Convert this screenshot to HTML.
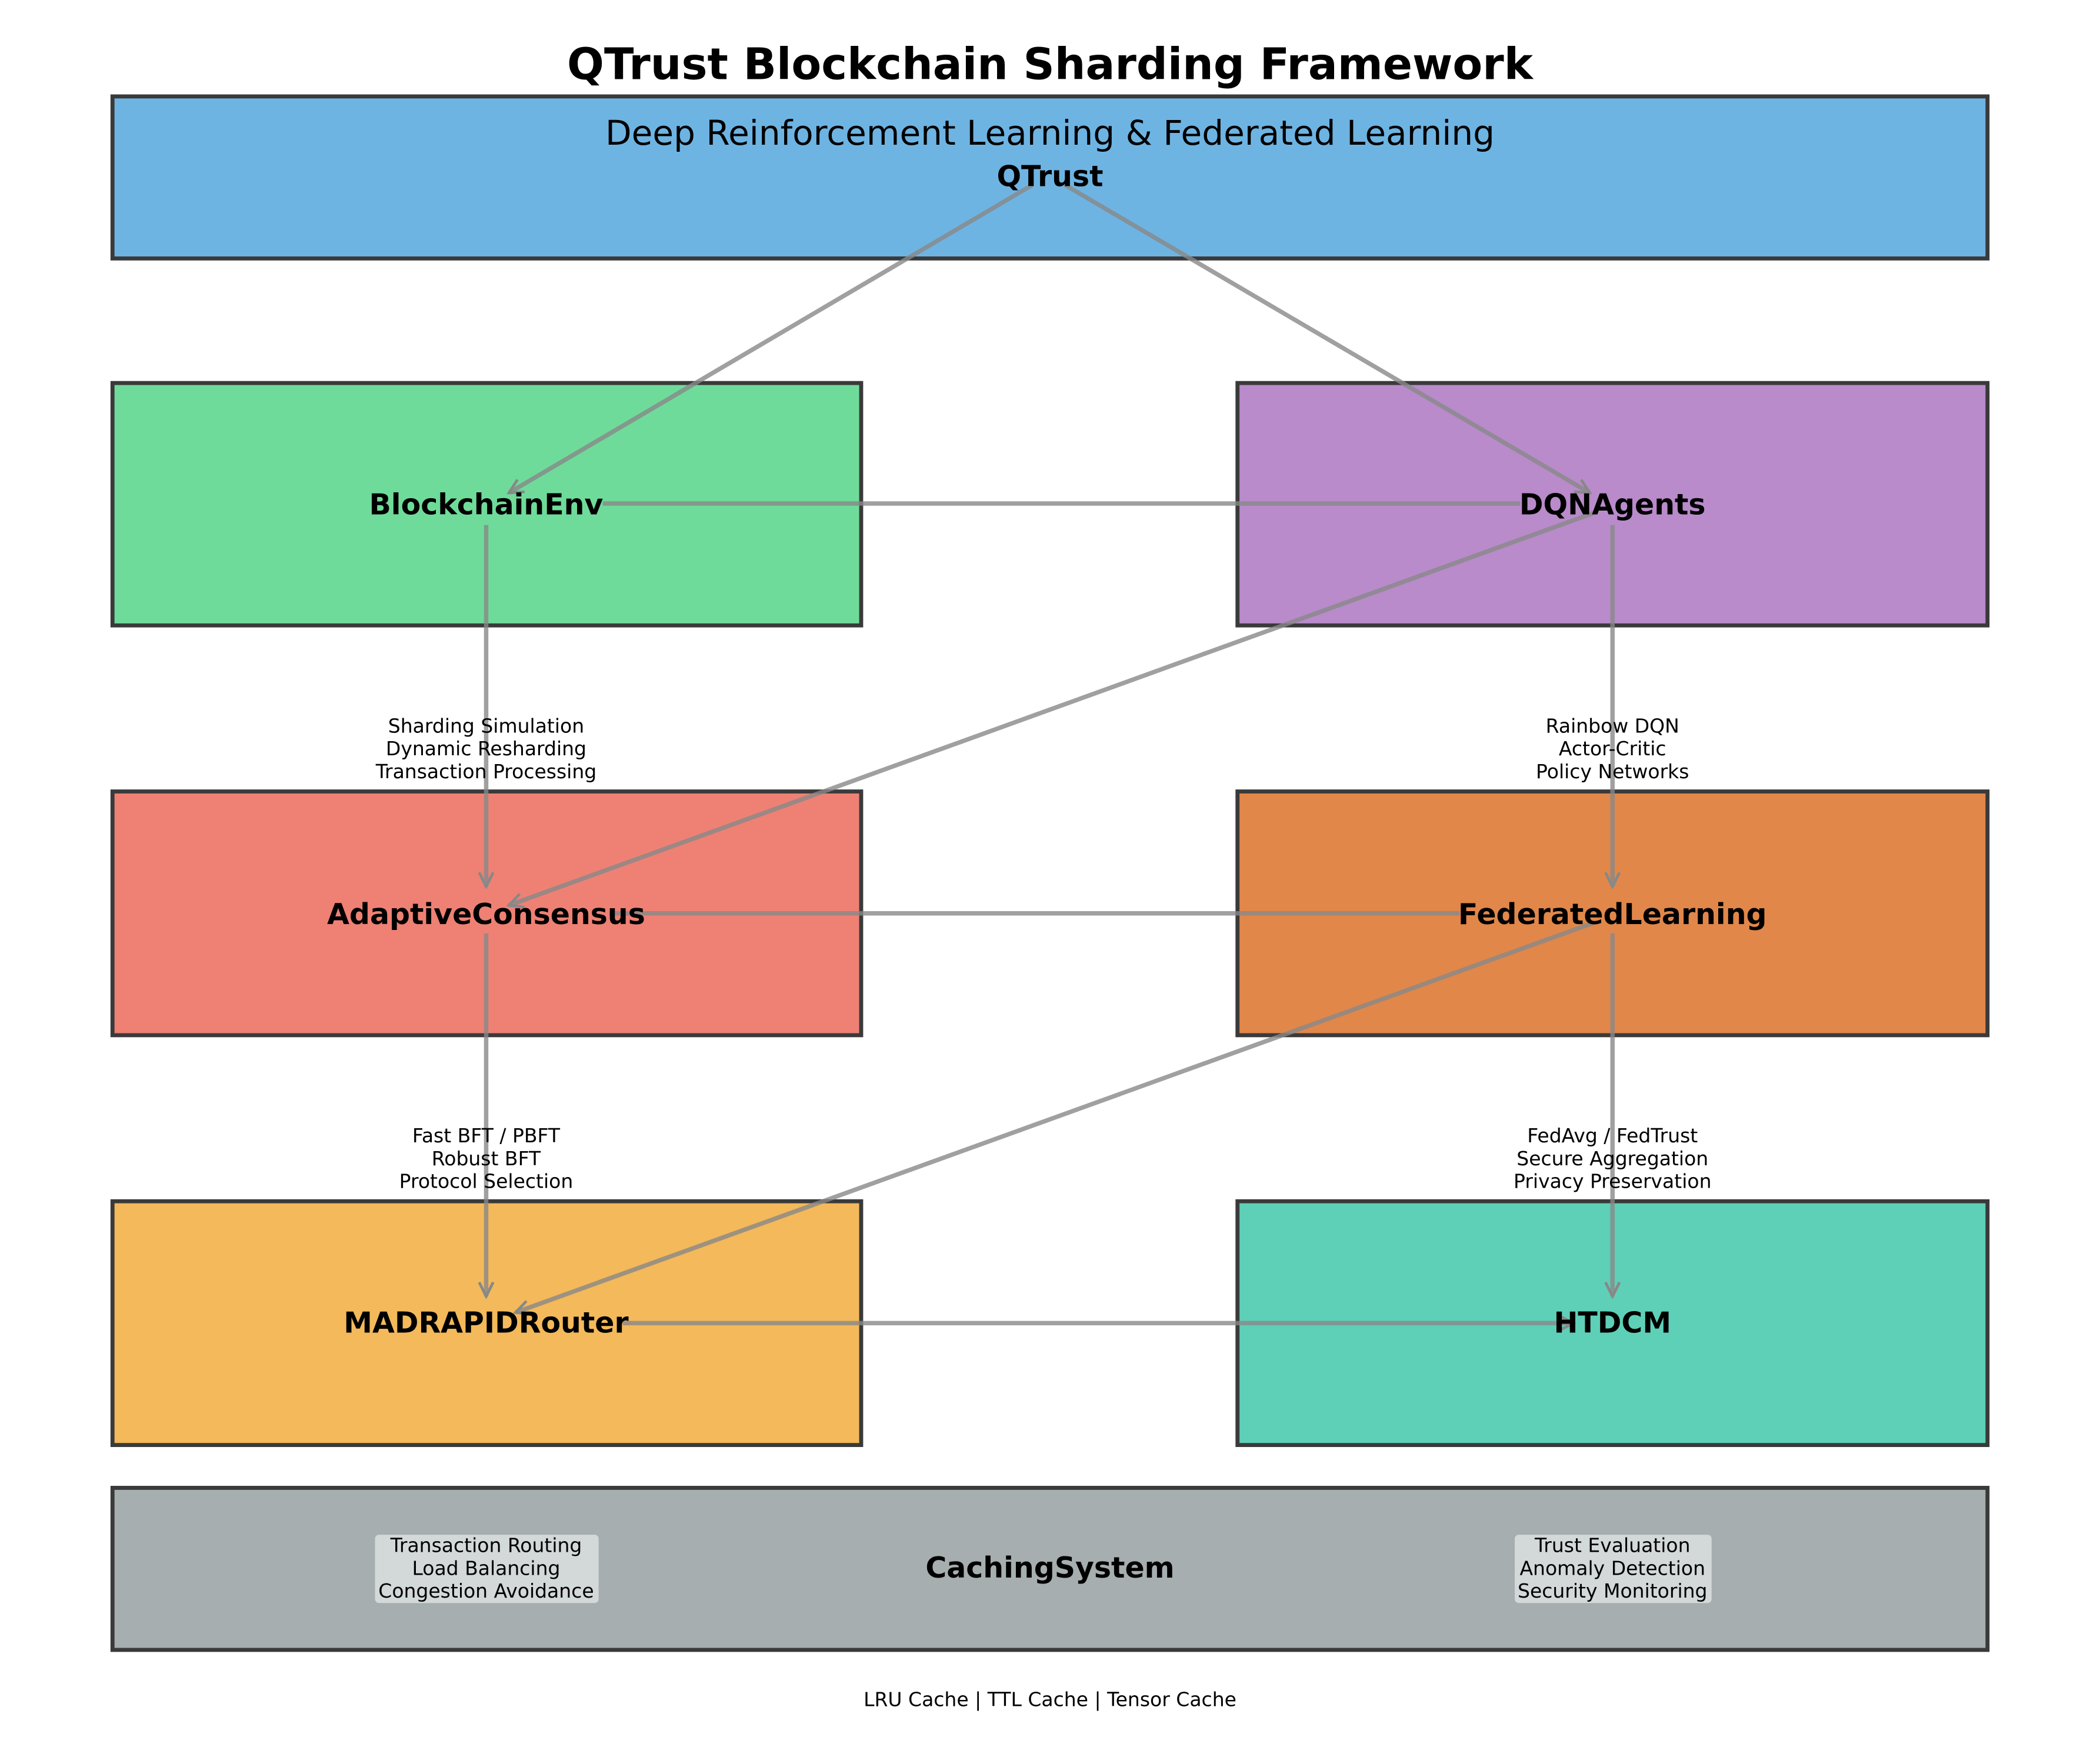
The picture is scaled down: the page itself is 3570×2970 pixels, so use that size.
<!DOCTYPE html>
<html><head><meta charset="utf-8"><style>html,body{margin:0;padding:0;background:#fff}svg{display:block}</style></head>
<body>
<svg width="3570" height="2970" viewBox="0 0 1568 1304.5" preserveAspectRatio="none" xmlns="http://www.w3.org/2000/svg" font-family="DejaVu Sans, Liberation Sans, sans-serif">
<defs>
<marker id="a" viewBox="0 0 24 24" refX="21" refY="12" markerWidth="14" markerHeight="14" markerUnits="userSpaceOnUse" orient="auto"><path d="M3,3 L21,12 L3,21" fill="none" stroke="#888" stroke-width="3.5"/></marker>
</defs>
<text x="784" y="59" font-size="32.5" font-weight="bold" text-anchor="middle">QTrust Blockchain Sharding Framework</text>
<g stroke="#3a3a3a" stroke-width="3">
<rect x="84" y="72" width="1400" height="121" fill="#6eb4e3"/>
<rect x="84" y="286" width="559" height="181" fill="#6fdb9a"/>
<rect x="924" y="286" width="560" height="181" fill="#b98bca"/>
<rect x="84" y="591" width="559" height="182" fill="#ee8174"/>
<rect x="924" y="591" width="560" height="182" fill="#e1874a"/>
<rect x="84" y="897" width="559" height="182" fill="#f4b95a"/>
<rect x="924" y="897" width="560" height="182" fill="#5ed0b7"/>
<rect x="84" y="1111" width="1400" height="121" fill="#a6aeaf"/>
</g>
<g stroke="#888" stroke-opacity="0.8" stroke-width="3.3" fill="none">
<line x1="771" y1="138" x2="380" y2="368" marker-end="url(#a)"/>
<line x1="795" y1="138" x2="1187" y2="368" marker-end="url(#a)"/>
<line x1="450" y1="376" x2="1135" y2="376"/>
<line x1="363" y1="392" x2="363" y2="662" marker-end="url(#a)"/>
<line x1="1204" y1="392" x2="1204" y2="662" marker-end="url(#a)"/>
<line x1="1190" y1="383" x2="380" y2="676" marker-end="url(#a)"/>
<line x1="455" y1="682" x2="1090" y2="682"/>
<line x1="363" y1="697" x2="363" y2="968" marker-end="url(#a)"/>
<line x1="1204" y1="697" x2="1204" y2="968" marker-end="url(#a)"/>
<line x1="1190" y1="689" x2="385" y2="980" marker-end="url(#a)"/>
<line x1="465" y1="988" x2="1175" y2="988" marker-end="url(#a)"/>
</g>
<text x="784" y="108" font-size="25.5" text-anchor="middle">Deep Reinforcement Learning &amp; Federated Learning</text>
<g font-size="21.5" font-weight="bold" text-anchor="middle">
<text x="784" y="139">QTrust</text>
<text x="363" y="384">BlockchainEnv</text>
<text x="1204" y="384">DQNAgents</text>
<text x="363" y="690">AdaptiveConsensus</text>
<text x="1204" y="690">FederatedLearning</text>
<text x="363" y="995">MADRAPIDRouter</text>
<text x="1204" y="995">HTDCM</text>
<text x="784" y="1178">CachingSystem</text>
</g>
<rect x="280" y="1146" width="167" height="51" rx="3" fill="#d3d8d9"/>
<rect x="1131" y="1146" width="147" height="51" rx="3" fill="#d3d8d9"/>
<g font-size="14.5" text-anchor="middle">
<text x="363" y="547">Sharding Simulation</text>
<text x="363" y="564">Dynamic Resharding</text>
<text x="363" y="581">Transaction Processing</text>
<text x="1204" y="547">Rainbow DQN</text>
<text x="1204" y="564">Actor-Critic</text>
<text x="1204" y="581">Policy Networks</text>
<text x="363" y="853">Fast BFT / PBFT</text>
<text x="363" y="870">Robust BFT</text>
<text x="363" y="887">Protocol Selection</text>
<text x="1204" y="853">FedAvg / FedTrust</text>
<text x="1204" y="870">Secure Aggregation</text>
<text x="1204" y="887">Privacy Preservation</text>
<text x="363" y="1159">Transaction Routing</text>
<text x="363" y="1176">Load Balancing</text>
<text x="363" y="1193">Congestion Avoidance</text>
<text x="1204" y="1159">Trust Evaluation</text>
<text x="1204" y="1176">Anomaly Detection</text>
<text x="1204" y="1193">Security Monitoring</text>
<text x="784" y="1274">LRU Cache | TTL Cache | Tensor Cache</text>
</g>
</svg>
</body></html>
